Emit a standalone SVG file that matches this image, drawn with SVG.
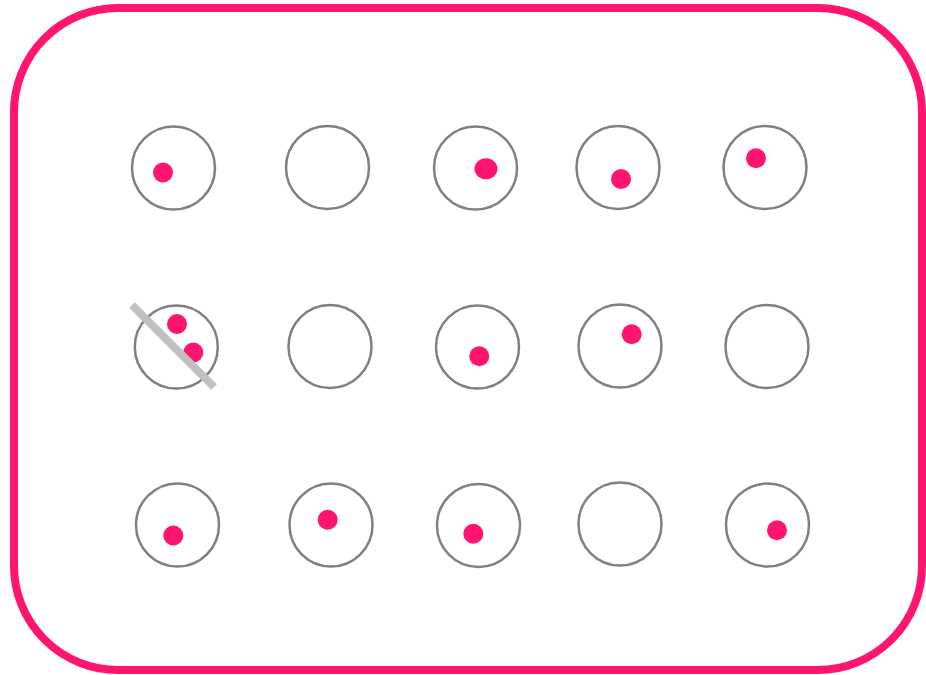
<svg xmlns="http://www.w3.org/2000/svg" width="926" height="675" viewBox="0 0 926 675">
<style>
.frame{fill:#fff;stroke:#ff1470;stroke-width:8}
.ring{fill:none;stroke:#808080;stroke-width:2.5}
.dot{fill:#ff1470}
.slash{stroke:#c0c0c0;stroke-width:8;stroke-linecap:butt}
</style>
<rect class="frame" x="14" y="8" width="908" height="662" rx="104" ry="104"/>
<g id="n1"><circle class="ring" cx="173.5" cy="168" r="41.5"/><circle class="dot" cx="163" cy="172.5" r="10"/></g>
<g id="n2"><circle class="ring" cx="327.5" cy="167.5" r="41.5"/></g>
<g id="n3"><circle class="ring" cx="475.5" cy="168" r="41.5"/><ellipse class="dot" cx="486" cy="168.8" rx="11.5" ry="10.5"/></g>
<g id="n4"><circle class="ring" cx="618" cy="167.5" r="41.5"/><circle class="dot" cx="621" cy="179" r="10"/></g>
<g id="n5"><circle class="ring" cx="765" cy="167.5" r="41.5"/><circle class="dot" cx="756" cy="158.3" r="10"/></g>
<g id="n6"><circle class="ring" cx="176.3" cy="347" r="41.5"/><circle class="dot" cx="177" cy="324" r="10"/><circle class="dot" cx="193.3" cy="352.5" r="10"/></g>
<g id="n7"><circle class="ring" cx="330" cy="346.5" r="41.5"/></g>
<g id="n8"><circle class="ring" cx="477.5" cy="347" r="41.5"/><circle class="dot" cx="479.3" cy="356.3" r="10"/></g>
<g id="n9"><circle class="ring" cx="620" cy="346" r="41.5"/><circle class="dot" cx="631.7" cy="334.3" r="10"/></g>
<g id="n10"><circle class="ring" cx="767" cy="346.5" r="41.5"/></g>
<g id="n11"><circle class="ring" cx="177.5" cy="525" r="41.5"/><circle class="dot" cx="173.3" cy="535.5" r="10"/></g>
<g id="n12"><circle class="ring" cx="331" cy="525" r="41.5"/><circle class="dot" cx="327.7" cy="519.7" r="10"/></g>
<g id="n13"><circle class="ring" cx="478.5" cy="525.5" r="41.5"/><circle class="dot" cx="473.3" cy="533.7" r="10"/></g>
<g id="n14"><circle class="ring" cx="620" cy="524" r="41.5"/></g>
<g id="n15"><circle class="ring" cx="767.5" cy="525" r="41.5"/><circle class="dot" cx="777" cy="530.3" r="10"/></g>
<g id="connectors"><line class="slash" x1="132" y1="305" x2="214" y2="387"/></g>
</svg>
